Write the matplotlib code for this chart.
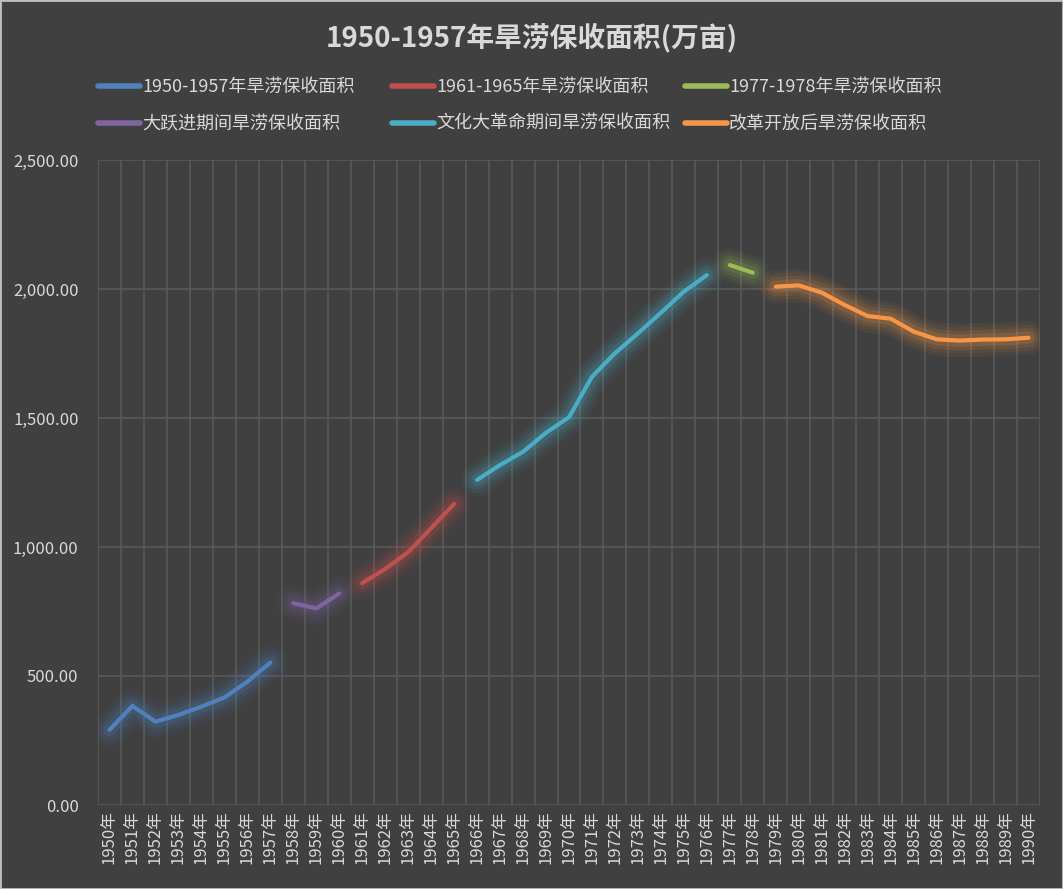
import numpy as np
import matplotlib
matplotlib.use("Agg")
import matplotlib.pyplot as plt
from matplotlib.ticker import FuncFormatter, MultipleLocator

plt.rcParams['font.family'] = ['Noto Sans CJK SC', 'DejaVu Sans']

years = list(range(1950, 1991))
year_labels = [f"{y}年" for y in years]

# 各阶段数据 (万亩)
v_1950_1957 = [291, 384, 323, 349, 381, 417, 478, 552]
v_dayuejin = [782, 762, 820]            # 1958-1960
v_1961_1965 = [860, 915, 980, 1073, 1167]
v_wenge = [1260, 1318, 1369, 1443, 1503, 1660, 1751, 1828, 1908, 1990, 2054]  # 1966-1976
v_1977_1978 = [2093, 2063]
v_gaige = [2009, 2014, 1986, 1938, 1895, 1885, 1835, 1805, 1800, 1804, 1805, 1811]  # 1979-1990

series = [
    ("1950-1957年旱涝保收面积", 1950, v_1950_1957, "#4F81BD"),
    ("大跃进期间旱涝保收面积", 1958, v_dayuejin, "#8064A2"),
    ("1961-1965年旱涝保收面积", 1961, v_1961_1965, "#C0504D"),
    ("文化大革命期间旱涝保收面积", 1966, v_wenge, "#4BACC6"),
    ("1977-1978年旱涝保收面积", 1977, v_1977_1978, "#9BBB59"),
    ("改革开放后旱涝保收面积", 1979, v_gaige, "#F79646"),
]

bg = "#404040"
txt = "#D9D9D9"
grid = "#595959"

fig = plt.figure(figsize=(10.63, 8.89), dpi=100, facecolor=bg)
ax = fig.add_axes([98/1063, 1-805/889, 942/1063, 645/889])
ax.set_facecolor(bg)

handles = []
for name, start, vals, col in series:
    x = np.arange(start, start + len(vals)) - 1950
    # glow
    for lw, a in [(24, 0.06), (19, 0.08), (14, 0.11), (9, 0.16)]:
        ax.plot(x, vals, color=col, lw=lw, alpha=a, solid_capstyle='round',
                solid_joinstyle='round', zorder=2)
    h, = ax.plot(x, vals, color=col, lw=3, solid_capstyle='round',
                 solid_joinstyle='round', zorder=3, label=name)
    handles.append(h)

ax.set_xlim(-0.5, len(years) - 0.5)
ax.set_ylim(0, 2500)
ax.yaxis.set_major_locator(MultipleLocator(500))
ax.yaxis.set_major_formatter(FuncFormatter(lambda v, p: f"{v:,.2f}"))
ax.set_xticks(np.arange(len(years)))
ax.set_xticklabels(year_labels, rotation=90, fontsize=12, color=txt)
ax.set_xticks(np.arange(len(years) + 1) - 0.5, minor=True)
ax.tick_params(axis='y', colors=txt, labelsize=12, length=0, pad=14)
ax.tick_params(axis='x', which='both', length=0, pad=4)
ax.grid(axis='y', color=grid, lw=1.2, zorder=0)
ax.grid(axis='x', which='minor', color=grid, lw=1.2, zorder=0)
ax.grid(axis='x', which='major', visible=False)
for s in ax.spines.values():
    s.set_visible(False)

fig.text(0.5, 1-38/889, "1950-1957年旱涝保收面积(万亩)", ha='center', va='center',
         fontsize=20, fontweight='bold', color=txt)

# three legend columns placed like the Excel legend
col_x = [98, 392, 685]
for i, cx in enumerate(col_x):
    leg = fig.legend(handles=handles[2*i:2*i+2], loc='upper left',
                     bbox_to_anchor=(cx/1063, 1-78/889), ncol=1, frameon=False,
                     fontsize=13, labelcolor=txt, borderpad=0, borderaxespad=0,
                     handlelength=2.3, handletextpad=0.15, labelspacing=1.05)
    for l in leg.get_lines():
        l.set_linewidth(4)

fig.patches.append(plt.Rectangle((0, 0), 1, 1, transform=fig.transFigure,
                                 fill=False, edgecolor="#BFBFBF", lw=2))

fig.savefig("out.png", dpi=100, facecolor=bg)
